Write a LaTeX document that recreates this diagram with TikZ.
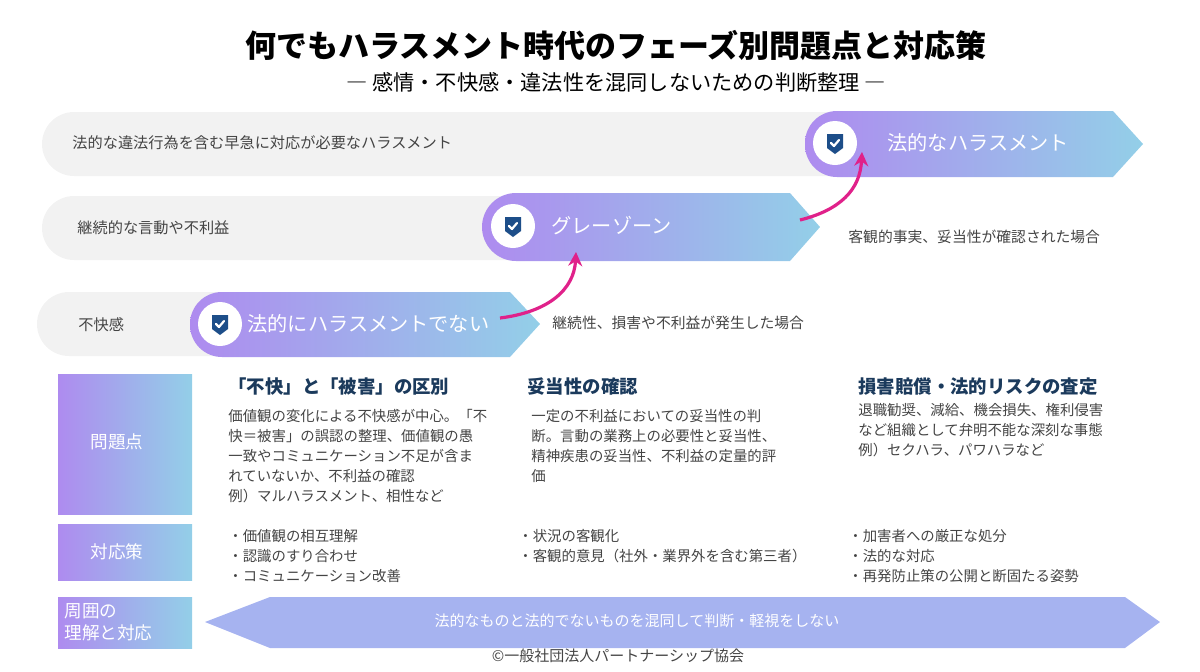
\documentclass[tikz,border=0pt]{standalone}
\usepackage{fontspec}
\setmainfont{Noto Sans CJK JP}
\usetikzlibrary{arrows.meta,positioning}
\definecolor{barGray}{HTML}{F2F2F2}
\definecolor{gradL}{HTML}{AE8BEF}
\definecolor{gradR}{HTML}{93CFE8}
\definecolor{shieldBlue}{HTML}{1D4E89}
\definecolor{headBlue}{HTML}{1B3A5C}
\definecolor{bodyGray}{HTML}{444444}
\definecolor{pinkArrow}{HTML}{E0218A}
\definecolor{bandBlue}{HTML}{A6B3F0}
\tikzset{
  shieldicon/.pic={
    \fill[white] (0,0) circle (11pt);
    \fill[shieldBlue] (-8,-9) -- (8,-9) -- (8,5) -- (0,11) -- (-8,5) -- cycle;
    \draw[white,line width=1.1pt,line cap=round,line join=round] (-4,0) -- (-1,3) -- (4,-3);
  },
  barlabel/.style={font=\fontsize{7.6}{9}\selectfont,text=bodyGray,anchor=west,inner sep=0pt},
  stagelabel/.style={font=\fontsize{10.1}{12}\selectfont,text=white,anchor=west,inner sep=0pt},
  sidelabel/.style={font=\fontsize{7.4}{9}\selectfont,text=bodyGray,anchor=west,inner sep=0pt},
  colhead/.style={font=\bfseries\fontsize{9.2}{11}\selectfont,text=headBlue,anchor=north west,inner sep=0pt},
  colbody/.style={font=\fontsize{7.2}{10}\selectfont,text=bodyGray,anchor=north west,inner sep=0pt,align=left},
  rowlabel/.style={font=\fontsize{8.8}{11}\selectfont,text=white,inner sep=0pt,align=left},
  pinkarrow/.style={pinkArrow,line width=1.6pt,-{Stealth[length=7pt,width=7pt]}},
}
\begin{document}
\begin{tikzpicture}[x=0.5pt,y=-0.5pt]
\useasboundingbox (0,0) rectangle (1200,671);
% title
\node (title) at (616,45) {\bfseries\fontsize{15.5}{17}\selectfont 何でもハラスメント時代のフェーズ別問題点と対応策};
\node (subtitle) at (616,82) {\fontsize{10.6}{12}\selectfont ― 感情・不快感・違法性を混同しないための判断整理 ―};
% gray bars
\fill[barGray,rounded corners=16pt] (42,112) rectangle (1130,176);
\fill[barGray,rounded corners=16pt] (42,196) rectangle (800,260);
\fill[barGray,rounded corners=16pt] (37,292) rectangle (500,356);
\node[barlabel] (bar1) at (72,143) {法的な違法行為を含む早急に対応が必要なハラスメント};
\node[barlabel] (bar2) at (77,228) {継続的な言動や不利益};
\node[barlabel] (bar3) at (78,325) {不快感};
% stage arrows
\shade[left color=gradL,right color=gradR] (1113,111) -- (1143,144) -- (1113,177) [rounded corners=16pt] -- (805,177) -- (805,111) [sharp corners] -- cycle;
\shade[left color=gradL,right color=gradR] (790,193) -- (820,227) -- (790,261) [rounded corners=17pt] -- (482,261) -- (482,193) [sharp corners] -- cycle;
\shade[left color=gradL,right color=gradR] (510,292) -- (540,324) -- (510,357) [rounded corners=16pt] -- (190,357) -- (190,292) [sharp corners] -- cycle;
\pic at (835,143) {shieldicon};
\pic at (513,226) {shieldicon};
\pic at (220,324) {shieldicon};
\node[stagelabel] (legal) at (887,143) {法的なハラスメント};
\node[stagelabel] (gray) at (551,226) {グレーゾーン};
\node[stagelabel] (notlegal) at (247,324) {法的にハラスメントでない};
\node[sidelabel] (cond2) at (848,237) {客観的事実、妥当性が確認された場合};
\node[sidelabel] (cond1) at (552,323) {継続性、損害や不利益が発生した場合};
% pink connectors
\coordinate (up1s) at (500,318);
\coordinate (up1e) at (576,252);
\coordinate (up2s) at (800,220);
\coordinate (up2e) at (862,152);
\draw[pinkarrow] (up1s) .. controls (548,312) and (574,290) .. (up1e);
\draw[pinkarrow] (up2s) .. controls (840,210) and (860,190) .. (up2e);
% row headers
\shade[left color=gradL,right color=gradR] (58,374) rectangle (192,514);
\shade[left color=gradL,right color=gradR] (58,524) rectangle (192,580);
\shade[left color=gradL,right color=gradR] (58,597) rectangle (192,648);
\node[rowlabel] (rproblem) at (117,442) {問題点};
\node[rowlabel] (rmeasure) at (117,552) {対応策};
\node[rowlabel,anchor=west] (rsurround) at (64,622) {周囲の\\理解と対応};
% columns
\node[colhead] (h1) at (228,377) {「不快」と「被害」の区別};
\node[colhead] (h2) at (527,377) {妥当性の確認};
\node[colhead] (h3) at (858,377) {損害賠償・法的リスクの査定};
\node[colbody] (b1) at (228,409) {価値観の変化による不快感が中心。「不\\快＝被害」の誤認の整理、価値観の愚\\一致やコミュニケーション不足が含ま\\れていないか、不利益の確認\\例）マルハラスメント、相性など};
\node[colbody] (b2) at (531,409) {一定の不利益においての妥当性の判\\断。言動の業務上の必要性と妥当性、\\精神疾患の妥当性、不利益の定量的評\\価};
\node[colbody] (b3) at (858,403) {退職勧奨、減給、機会損失、権利侵害\\など組織として弁明不能な深刻な事態\\例）セクハラ、パワハラなど};
\node[colbody] (m1) at (228,529) {・価値観の相互理解\\・認識のすり合わせ\\・コミュニケーション改善};
\node[colbody] (m2) at (518,529) {・状況の客観化\\・客観的意見（社外・業界外を含む第三者）};
\node[colbody] (m3) at (848,529) {・加害者への厳正な処分\\・法的な対応\\・再発防止策の公開と断固たる姿勢};
% bottom band
\fill[bandBlue] (205,622) -- (270,597) -- (1125,597) -- (1160,622) -- (1125,648) -- (270,648) -- cycle;
\node[font=\fontsize{7.5}{9}\selectfont,text=white] (band) at (637,621) {法的なものと法的でないものを混同して判断・軽視をしない};
\node[font=\fontsize{7.5}{9}\selectfont,text=bodyGray] (copy) at (618,656) {©一般社団法人パートナーシップ協会};
\end{tikzpicture}
\end{document}
